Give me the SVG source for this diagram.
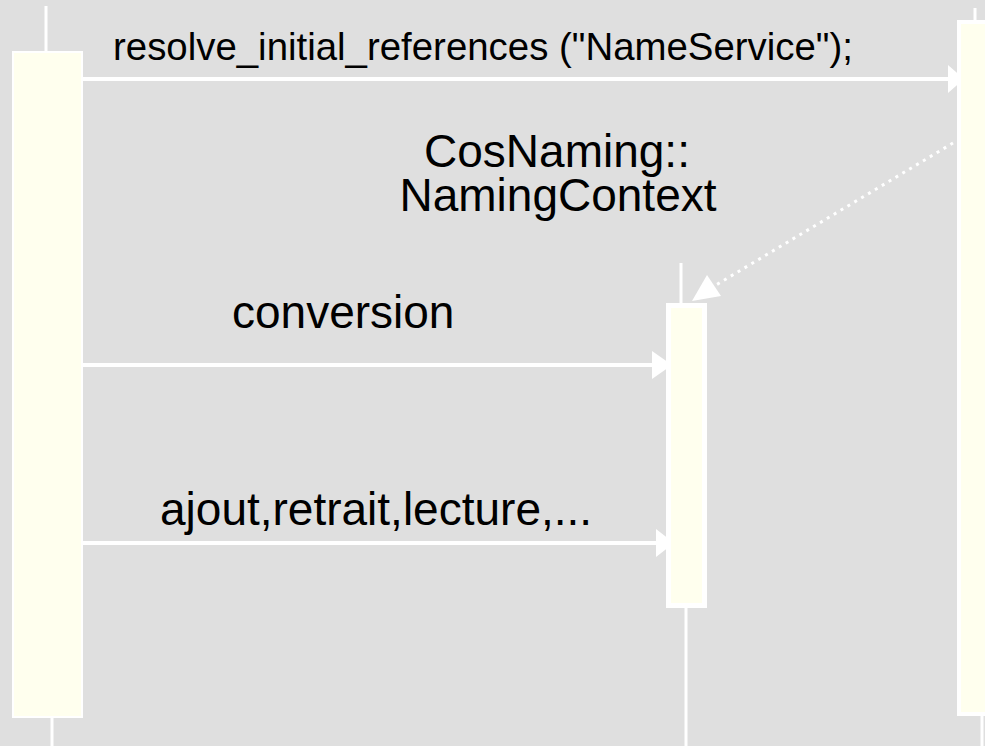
<svg xmlns="http://www.w3.org/2000/svg" width="985" height="746" viewBox="0 0 985 746">
<style>
.bg{fill:#dfdfdf}
.life{stroke:#ffffff;stroke-width:3;fill:none}
.act{fill:#ffffee;stroke:#ffffff}
.msg{stroke:#ffffff;stroke-width:4;fill:none}
.ret{stroke:#ffffff;stroke-width:3;fill:none;stroke-dasharray:3 5}
.head{fill:#ffffff}
.t{font-family:"Liberation Sans",Arial,sans-serif;fill:#000000}
</style>
<rect class="bg" x="0" y="0" width="985" height="746"/>
<g id="connectors">
<line class="msg" x1="83" y1="79" x2="950" y2="79"/>
<polygon class="head" points="948,65 964,79 948,93"/>
<line class="ret" x1="953" y1="143" x2="716" y2="285"/>
<polygon class="head" points="707,275 692,301 721,296"/>
<line class="msg" x1="83" y1="365" x2="655" y2="365"/>
<polygon class="head" points="652,351 672,365 652,379"/>
<line class="msg" x1="83" y1="543" x2="658" y2="543"/>
<polygon class="head" points="656,529 674,543 656,557"/>
</g>
<g id="client">
<line class="life" x1="46" y1="6" x2="46" y2="52"/>
<line class="life" x1="52" y1="717" x2="52" y2="746"/>
<rect class="act" x="13" y="52" width="69" height="665" stroke-width="2"/>
</g>
<g id="orb">
<line class="life" x1="975" y1="8" x2="975" y2="22"/>
<line class="life" x1="982" y1="714" x2="982" y2="746"/>
<rect class="act" x="959" y="22" width="40" height="692" stroke-width="4"/>
</g>
<g id="namingcontext">
<line class="life" x1="681" y1="263" x2="681" y2="305"/>
<line class="life" x1="686" y1="606" x2="686" y2="746"/>
<rect class="act" x="668.5" y="305.5" width="36" height="300" stroke-width="5"/>
</g>
<g id="labels">
<text class="t" x="113" y="60" font-size="38.4">resolve_initial_references ("NameService");</text>
<text class="t" x="557" y="167" font-size="46" text-anchor="middle">CosNaming::</text>
<text class="t" x="558" y="211" font-size="46" text-anchor="middle">NamingContext</text>
<text class="t" x="232" y="328" font-size="46">conversion</text>
<text class="t" x="160" y="525" font-size="46">ajout,retrait,lecture,...</text>
</g>
</svg>
